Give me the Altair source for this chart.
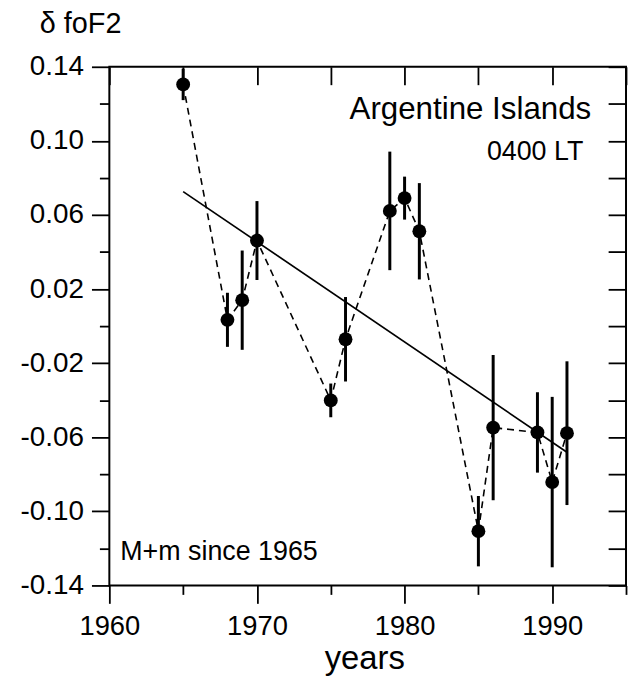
import altair as alt
import pandas as pd

# data
years = [1965, 1968, 1969, 1970, 1975, 1976, 1979, 1980, 1981, 1985, 1986, 1989, 1990, 1991]
dfoF2 = [0.1305, 0.0034, 0.0140, 0.0462, -0.0401, -0.0071, 0.0622, 0.0691, 0.0512,
         -0.1107, -0.0548, -0.0574, -0.0842, -0.0578]
err = [0.0085, 0.0146, 0.0268, 0.0213, 0.0091, 0.0228, 0.0320, 0.0116, 0.0260,
       0.0190, 0.0392, 0.0217, 0.0460, 0.0388]
trend_years = [1965, 1991]
trend_vals = [0.0726, -0.0681]

x_ticks = [1960, 1965, 1970, 1975, 1980, 1985, 1990, 1995]
y_ticks = [round(-0.14 + 0.02 * i, 2) for i in range(15)]

df = pd.DataFrame({"year": years, "v": dfoF2, "err": err})
df["lo"] = df["v"] - df["err"]
df["hi"] = df["v"] + df["err"]
trend = pd.DataFrame({"year": trend_years, "v": trend_vals})

FONT = "Liberation Sans"
xs = alt.Scale(domain=[1960, 1995], nice=False, zero=False)
ys = alt.Scale(domain=[-0.14, 0.14], nice=False, zero=False)

major_y = "abs(round(datum.value*50)) % 2 == 1"
axis_bottom = alt.Axis(
    orient="bottom", values=x_ticks, format="d", title=None, grid=False, domain=False,
    tickSize={"condition": {"test": "datum.value % 10 == 0", "value": 18}, "value": 9},
    tickWidth=1.8, tickColor="black",
    labelExpr="datum.value % 10 == 0 ? datum.label : ''",
    labelFont=FONT, labelFontSize=27.5, labelColor="black", labelPadding=9,
    labelFlush=False, labelOverlap=False,
)
axis_left = alt.Axis(
    orient="left", values=y_ticks, title=None, grid=False, domain=False,
    tickSize={"condition": {"test": major_y, "value": 18}, "value": 10},
    tickWidth=1.8, tickColor="black",
    labelExpr=major_y + " ? (datum.value < 0 ? '-' : '') + format(abs(datum.value), '.2f') : ''",
    labelFont=FONT, labelFontSize=28, labelColor="black", labelPadding=8,
    labelFlush=False, labelOverlap=False,
)
axis_top = alt.Axis(
    orient="top", values=x_ticks, title=None, grid=False, domain=False, labels=False,
    offset=-18, tickSize=18, tickWidth=1.8, tickColor="black",
)
axis_right = alt.Axis(
    orient="right", values=y_ticks, title=None, grid=False, domain=False, labels=False,
    offset=-18, tickSize=18, tickWidth=1.8, tickColor="black",
)

base = alt.Chart(df)

dashed = base.mark_line(color="black", strokeWidth=1.6, strokeDash=[7, 5]).encode(
    x=alt.X("year:Q", scale=xs, axis=None),
    y=alt.Y("v:Q", scale=ys, axis=None),
)

trend_line = alt.Chart(trend).mark_line(color="black", strokeWidth=1.7).encode(
    x=alt.X("year:Q", scale=xs, axis=axis_top),
    y=alt.Y("v:Q", scale=ys, axis=axis_right),
)

bars = base.mark_rule(color="black", strokeWidth=3).encode(
    x=alt.X("year:Q", scale=xs, axis=None),
    y=alt.Y("lo:Q", scale=ys, axis=None),
    y2="hi:Q",
)

points = base.mark_circle(color="black", opacity=1, size=195).encode(
    x=alt.X("year:Q", scale=xs, axis=axis_bottom),
    y=alt.Y("v:Q", scale=ys, axis=axis_left),
)

def label(txt, x, y, size, align="left"):
    return alt.Chart(pd.DataFrame({"t": [txt]})).mark_text(
        font=FONT, fontSize=size, color="black", align=align, baseline="alphabetic"
    ).encode(text="t:N", x=alt.value(x), y=alt.value(y))

t1 = label("Argentine Islands", 485, 53, 31.5, "right")
t2 = label("0400 LT", 477, 94, 27, "right")
t3 = label("M+m since 1965", 11, 496, 27)
t4 = label("δ foF2", -70, -34, 29)
t5 = label("years", 257, 606, 33, "center")

chart = alt.layer(dashed, trend_line, bars, points, t1, t2, t3, t4, t5).resolve_axis(
    x="independent", y="independent"
).properties(
    width=520, height=522,
    autosize=alt.AutoSizeParams(type="none"),
    padding={"left": 102, "top": 57, "right": 2, "bottom": 92},
).configure_view(stroke="black", strokeWidth=2)

chart.save("out.html", embed_options={"renderer": "svg", "actions": False})
